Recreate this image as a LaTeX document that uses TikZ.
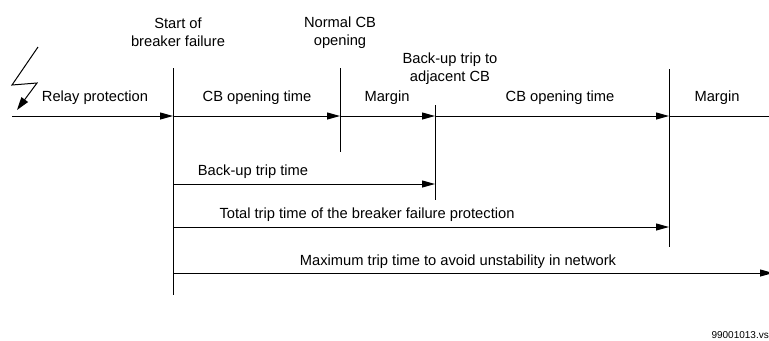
\documentclass[tikz,border=0pt]{standalone}
\usepackage{fontspec}
\setmainfont{Liberation Sans}
\usetikzlibrary{arrows.meta}
\begin{document}
\begin{tikzpicture}[x=1bp,y=-1bp,
  ln/.style={line width=1bp,black},
  arr/.style={ln,-{Triangle[length=13bp,width=7bp]}},
  lbl/.style={inner sep=0pt,font=\fontsize{14.7bp}{18bp}\selectfont,align=center},
  small/.style={inner sep=0pt,font=\fontsize{10bp}{12bp}\selectfont}]
\useasboundingbox (0,0) rectangle (769,340);
\clip (0,0) rectangle (769,340);
% coordinates
\coordinate (L0) at (12,116);
\coordinate (A1) at (173,116);
\coordinate (A2) at (340,116);
\coordinate (A3) at (435,116);
\coordinate (A4) at (669,116);
\coordinate (A5) at (769,116);
\coordinate (V1t) at (173,68);  \coordinate (V1b) at (173,295);
\coordinate (V2t) at (340,68);  \coordinate (V2b) at (340,152);
\coordinate (V3t) at (435,105); \coordinate (V3b) at (435,200);
\coordinate (V4t) at (669,69);  \coordinate (V4b) at (669,247);
\coordinate (B0) at (173,184); \coordinate (B1) at (435,184);
\coordinate (T0) at (173,227); \coordinate (T1) at (669,227);
\coordinate (M0) at (173,273); \coordinate (M1) at (773,273);
% lightning
\coordinate (Z0) at (38,47);
\coordinate (Z1) at (12,85);
\coordinate (Z2) at (37,83);
\coordinate (Z3) at (17,110);
% verticals
\draw[ln] (V1t) -- (V1b);
\draw[ln] (V2t) -- (V2b);
\draw[ln] (V3t) -- (V3b);
\draw[ln] (V4t) -- (V4b);
% main time line
\draw[arr] (L0) -- (A1);
\draw[arr] (A1) -- (A2);
\draw[arr] (A2) -- (A3);
\draw[arr] (A3) -- (A4);
\draw[ln] (A4) -- (A5);
% lower arrows
\draw[arr] (B0) -- (B1);
\draw[arr] (T0) -- (T1);
\draw[arr] (M0) -- (M1);
% lightning bolt
\draw[ln,line join=miter,-{Triangle[length=13bp,width=8bp]}] (Z0) -- (Z1) -- (Z2) -- (Z3);
% labels
\node[lbl] (startlbl) at (178,32) {Start of\\breaker failure};
\node[lbl] (normlbl) at (340,33) {Normal CB\\opening};
\node[lbl] (backlbl) at (450,69) {Back-up trip to\\adjacent CB};
\node[lbl] (relay) at (95,98) {Relay protection};
\node[lbl] (cbo1) at (257,98) {CB opening time};
\node[lbl] (marg1) at (387,98) {Margin};
\node[lbl] (cbo2) at (560,98) {CB opening time};
\node[lbl] (marg2) at (717,98) {Margin};
\node[lbl] (bt) at (253,172) {Back-up trip time};
\node[lbl] (tt) at (367,215) {Total trip time of the breaker failure protection};
\node[lbl] (mt) at (458,262) {Maximum trip time to avoid unstability in network};
\node[small,anchor=east] (code) at (769,335) {99001013.vs};
\end{tikzpicture}
\end{document}
